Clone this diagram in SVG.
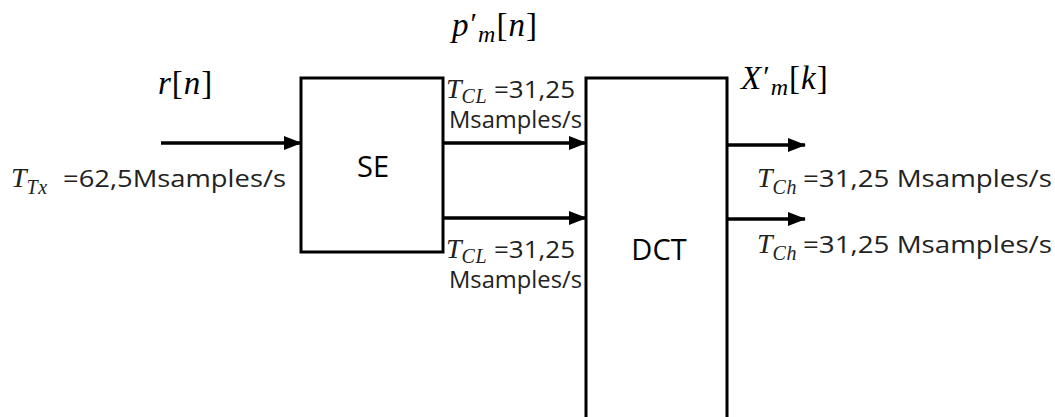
<svg xmlns="http://www.w3.org/2000/svg" width="1055" height="417" viewBox="0 0 1055 417">
  <defs>
    <marker id="arrow" markerUnits="userSpaceOnUse" markerWidth="18" markerHeight="14" refX="17" refY="7" orient="auto">
      <path d="M0,0 L18,7 L0,14 Z" fill="#000"/>
    </marker>
  </defs>
  <style>
    .box { fill: #fff; stroke: #000; stroke-width: 3; }
    .wire { stroke: #000; stroke-width: 3.5; fill: none; marker-end: url(#arrow); }
    .lbl { font-family: "Open Sans", "Liberation Sans", sans-serif; font-size: 23.5px; fill: #222; }
    .blk { font-family: "Open Sans", "Liberation Sans", sans-serif; font-size: 29px; fill: #000; }
    .math { font-family: "Liberation Serif", "DejaVu Serif", serif; font-style: italic; font-size: 33px; letter-spacing: 1px; fill: #000; }
    .mv { font-family: "Liberation Serif", "DejaVu Serif", serif; font-style: italic; font-size: 28px; fill: #222; }
    .sub { font-size: 20px; letter-spacing: 0.5px; }
    .up { font-style: normal; }
    .prime { font-style: normal; font-size: 30px; }
    .msub { font-size: 24px; }
  </style>
  <rect width="1055" height="417" fill="#fff"/>

  <!-- signal labels -->
  <text class="math" x="158" y="94">r<tspan class="up">[</tspan>n<tspan class="up">]</tspan></text>
  <text class="math" x="452" y="36">p<tspan class="prime" dx="1" dy="-3">′</tspan><tspan class="msub" dy="9">m</tspan><tspan class="up" dy="-6">[</tspan>n<tspan class="up">]</tspan></text>
  <text class="math" x="741" y="89">X<tspan class="prime" dx="1" dy="-3">′</tspan><tspan class="msub" dy="9">m</tspan><tspan class="up" dy="-6">[</tspan>k<tspan class="up">]</tspan></text>

  <!-- SE block -->
  <g id="se">
    <rect class="box" x="301" y="78" width="142" height="174"/>
    <text class="blk" x="373" y="177" text-anchor="middle">SE</text>
  </g>

  <!-- DCT block -->
  <g id="dct">
    <rect class="box" x="586" y="78" width="141" height="360"/>
    <text class="blk" x="659" y="260" text-anchor="middle">DCT</text>
  </g>

  <!-- connectors -->
  <g id="connectors">
    <line class="wire" x1="161" y1="143" x2="301" y2="143"/>
    <line class="wire" x1="443" y1="143" x2="586" y2="143"/>
    <line class="wire" x1="443" y1="218" x2="586" y2="218"/>
    <line class="wire" x1="727" y1="145" x2="805" y2="145"/>
    <line class="wire" x1="727" y1="219" x2="805" y2="219"/>
  </g>

  <!-- rate annotations -->
  <g id="rates">
    <text class="mv" x="11" y="187">T<tspan class="sub" dy="7">Tx</tspan></text>
    <text class="lbl" x="63" y="187" textLength="223" lengthAdjust="spacingAndGlyphs">=62,5Msamples/s</text>

    <text class="mv" x="446" y="98">T<tspan class="sub" dy="5">CL</tspan></text>
    <text class="lbl" x="494" y="98" textLength="81" lengthAdjust="spacingAndGlyphs">=31,25</text>
    <text class="lbl" x="449" y="128" textLength="133" lengthAdjust="spacingAndGlyphs">Msamples/s</text>

    <text class="mv" x="446" y="258">T<tspan class="sub" dy="5">CL</tspan></text>
    <text class="lbl" x="494" y="258" textLength="81" lengthAdjust="spacingAndGlyphs">=31,25</text>
    <text class="lbl" x="449" y="288" textLength="133" lengthAdjust="spacingAndGlyphs">Msamples/s</text>

    <text class="mv" x="757" y="187">T<tspan class="sub" dy="7">Ch</tspan></text>
    <text class="lbl" x="803" y="187" textLength="249" lengthAdjust="spacingAndGlyphs">=31,25 Msamples/s</text>

    <text class="mv" x="757" y="253">T<tspan class="sub" dy="7">Ch</tspan></text>
    <text class="lbl" x="803" y="253" textLength="249" lengthAdjust="spacingAndGlyphs">=31,25 Msamples/s</text>
  </g>
</svg>
